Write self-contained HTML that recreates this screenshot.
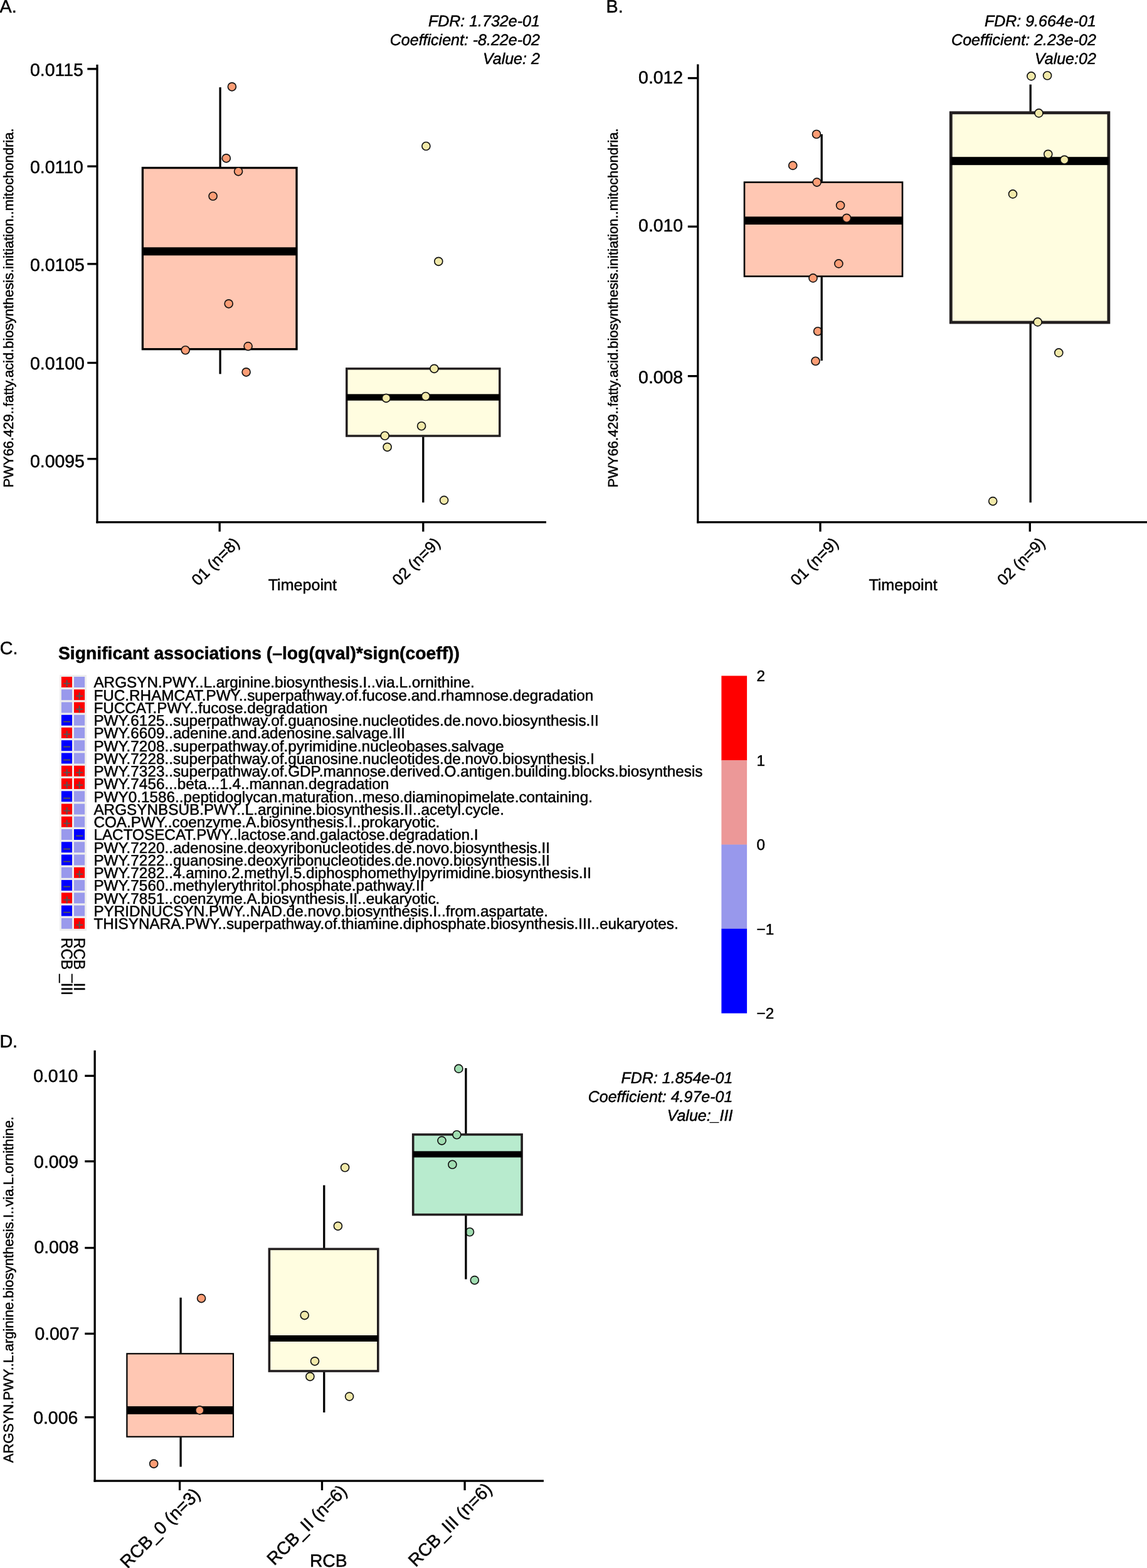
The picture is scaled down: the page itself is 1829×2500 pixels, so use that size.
<!DOCTYPE html>
<html lang="en">
<head>
<meta charset="utf-8">
<title>Figure</title>
<style>
html,body{margin:0;padding:0;background:#fff;}
body{width:1829px;height:2500px;overflow:hidden;}
svg{display:block;}
svg text{font-family:'Liberation Sans', sans-serif;text-rendering:geometricPrecision;stroke:#000;stroke-width:0.5px;}
svg text.nk{font-kerning:none;}
</style>
</head>
<body>
<svg width="1829" height="2500" viewBox="0 0 1829 2500">
<rect x="0" y="0" width="1829" height="2500" fill="#ffffff"/>
<g id="panelA">
<text x="-0.50" y="19.80" font-size="28.7" text-anchor="start" fill="#000" style="" class="nk">A.</text>
<text x="860.80" y="42.00" font-size="25" text-anchor="end" fill="#000" style="font-style:italic" >FDR: 1.732e-01</text>
<text x="860.80" y="71.85" font-size="25" text-anchor="end" fill="#000" style="font-style:italic" >Coefficient: -8.22e-02</text>
<text x="860.80" y="101.70" font-size="25" text-anchor="end" fill="#000" style="font-style:italic" >Value: 2</text>
<text transform="translate(21.20,777.30) rotate(-90)" font-size="21.95" text-anchor="start" fill="#000" style="" >PWY66.429..fatty.acid.biosynthesis.initiation..mitochondria.</text>
<rect x="227.40" y="267.60" width="245.60" height="289.10" fill="#FFC7B3" stroke="#000" stroke-width="3.3"/>
<rect x="227.40" y="394.30" width="245.60" height="13.00" fill="#000" stroke="none" stroke-width="0"/>
<rect x="552.80" y="587.80" width="244.00" height="107.20" fill="#FFFDE0" stroke="#231f20" stroke-width="3.5"/>
<rect x="552.80" y="628.35" width="244.00" height="10.30" fill="#000" stroke="none" stroke-width="0"/>
<circle cx="369.9" cy="138.3" r="6.5" fill="#FC9D75" stroke="#111" stroke-width="1.65"/>
<circle cx="360.8" cy="252.3" r="6.5" fill="#FC9D75" stroke="#111" stroke-width="1.65"/>
<circle cx="380.1" cy="273.3" r="6.5" fill="#FC9D75" stroke="#111" stroke-width="1.65"/>
<circle cx="339.6" cy="312.7" r="6.5" fill="#FC9D75" stroke="#111" stroke-width="1.65"/>
<circle cx="364.7" cy="484.3" r="6.5" fill="#FC9D75" stroke="#111" stroke-width="1.65"/>
<circle cx="295.7" cy="558.2" r="6.5" fill="#FC9D75" stroke="#111" stroke-width="1.65"/>
<circle cx="395.6" cy="552.1" r="6.5" fill="#FC9D75" stroke="#111" stroke-width="1.65"/>
<circle cx="392.6" cy="593.3" r="6.5" fill="#FC9D75" stroke="#111" stroke-width="1.65"/>
<circle cx="679.4" cy="233.0" r="6.5" fill="#F1E9A9" stroke="#111" stroke-width="1.65"/>
<circle cx="699.3" cy="416.8" r="6.5" fill="#F1E9A9" stroke="#111" stroke-width="1.65"/>
<circle cx="692.4" cy="587.8" r="6.5" fill="#F1E9A9" stroke="#111" stroke-width="1.65"/>
<circle cx="615.8" cy="634.8" r="6.5" fill="#F1E9A9" stroke="#111" stroke-width="1.65"/>
<circle cx="678.8" cy="632.0" r="6.5" fill="#F1E9A9" stroke="#111" stroke-width="1.65"/>
<circle cx="672.1" cy="679.2" r="6.5" fill="#F1E9A9" stroke="#111" stroke-width="1.65"/>
<circle cx="613.7" cy="694.7" r="6.5" fill="#F1E9A9" stroke="#111" stroke-width="1.65"/>
<circle cx="617.6" cy="712.8" r="6.5" fill="#F1E9A9" stroke="#111" stroke-width="1.65"/>
<circle cx="708.1" cy="797.6" r="6.5" fill="#F1E9A9" stroke="#111" stroke-width="1.65"/>
<line x1="351.1" y1="139.2" x2="351.1" y2="266.25" stroke="#000" stroke-width="3.3" stroke-linecap="butt"/>
<line x1="351.1" y1="558.05" x2="351.1" y2="596.3" stroke="#000" stroke-width="3.3" stroke-linecap="butt"/>
<line x1="674.8" y1="696.45" x2="674.8" y2="801.2" stroke="#000" stroke-width="3.3" stroke-linecap="butt"/>
<line x1="155" y1="103" x2="155" y2="834.2" stroke="#000" stroke-width="3.3" stroke-linecap="butt"/>
<line x1="153.4" y1="832.6" x2="871" y2="832.6" stroke="#000" stroke-width="3.3" stroke-linecap="butt"/>
<line x1="139.3" y1="109.9" x2="155" y2="109.9" stroke="#000" stroke-width="3.3" stroke-linecap="butt"/>
<text x="48.00" y="121.00" font-size="28.4" text-anchor="start" fill="#000" style="" >0.0115</text>
<line x1="139.3" y1="265.2" x2="155" y2="265.2" stroke="#000" stroke-width="3.3" stroke-linecap="butt"/>
<text x="48.00" y="275.60" font-size="28.4" text-anchor="start" fill="#000" style="" >0.0110</text>
<line x1="139.3" y1="420.85" x2="155" y2="420.85" stroke="#000" stroke-width="3.3" stroke-linecap="butt"/>
<text x="48.00" y="432.30" font-size="28.4" text-anchor="start" fill="#000" style="" >0.0105</text>
<line x1="139.3" y1="578.5" x2="155" y2="578.5" stroke="#000" stroke-width="3.3" stroke-linecap="butt"/>
<text x="48.00" y="588.50" font-size="28.4" text-anchor="start" fill="#000" style="" >0.0100</text>
<line x1="139.3" y1="731.65" x2="155" y2="731.65" stroke="#000" stroke-width="3.3" stroke-linecap="butt"/>
<text x="48.00" y="745.30" font-size="28.4" text-anchor="start" fill="#000" style="" >0.0095</text>
<line x1="350.2" y1="832.6" x2="350.2" y2="847.6" stroke="#000" stroke-width="3.3" stroke-linecap="butt"/>
<text transform="translate(383.30,867.60) rotate(-45)" font-size="25.4" text-anchor="end" fill="#000" style="" >01 (n=8)</text>
<line x1="674.8" y1="832.6" x2="674.8" y2="847.6" stroke="#000" stroke-width="3.3" stroke-linecap="butt"/>
<text transform="translate(703.40,867.60) rotate(-45)" font-size="25.4" text-anchor="end" fill="#000" style="" >02 (n=9)</text>
<text x="482.30" y="940.80" font-size="25.1" text-anchor="middle" fill="#000" style="" >Timepoint</text>
</g>
<g id="panelB">
<text x="966.50" y="19.80" font-size="28.7" text-anchor="start" fill="#000" style="" class="nk">B.</text>
<text x="1747.80" y="42.00" font-size="25" text-anchor="end" fill="#000" style="font-style:italic" >FDR: 9.664e-01</text>
<text x="1747.80" y="71.85" font-size="25" text-anchor="end" fill="#000" style="font-style:italic" >Coefficient: 2.23e-02</text>
<text x="1747.80" y="101.70" font-size="25" text-anchor="end" fill="#000" style="font-style:italic" >Value:02</text>
<text transform="translate(985.10,777.30) rotate(-90)" font-size="21.95" text-anchor="start" fill="#000" style="" >PWY66.429..fatty.acid.biosynthesis.initiation..mitochondria.</text>
<rect x="1187.00" y="290.60" width="252.00" height="150.00" fill="#FFC7B3" stroke="#000" stroke-width="2.6"/>
<rect x="1187.00" y="345.35" width="252.00" height="12.70" fill="#000" stroke="none" stroke-width="0"/>
<rect x="1516.30" y="179.80" width="251.60" height="334.20" fill="#FFFDE0" stroke="#231f20" stroke-width="4.8"/>
<rect x="1516.30" y="250.20" width="251.60" height="13.00" fill="#000" stroke="none" stroke-width="0"/>
<circle cx="1302.0" cy="214.0" r="6.5" fill="#FC9D75" stroke="#111" stroke-width="1.65"/>
<circle cx="1264.2" cy="263.9" r="6.5" fill="#FC9D75" stroke="#111" stroke-width="1.65"/>
<circle cx="1302.6" cy="290.6" r="6.5" fill="#FC9D75" stroke="#111" stroke-width="1.65"/>
<circle cx="1340.1" cy="327.5" r="6.5" fill="#FC9D75" stroke="#111" stroke-width="1.65"/>
<circle cx="1350.1" cy="347.8" r="6.5" fill="#FC9D75" stroke="#111" stroke-width="1.65"/>
<circle cx="1337.4" cy="420.4" r="6.5" fill="#FC9D75" stroke="#111" stroke-width="1.65"/>
<circle cx="1296.5" cy="443.4" r="6.5" fill="#FC9D75" stroke="#111" stroke-width="1.65"/>
<circle cx="1304.1" cy="528.2" r="6.5" fill="#FC9D75" stroke="#111" stroke-width="1.65"/>
<circle cx="1300.5" cy="575.7" r="6.5" fill="#FC9D75" stroke="#111" stroke-width="1.65"/>
<circle cx="1644.4" cy="121.4" r="6.5" fill="#F1E9A9" stroke="#111" stroke-width="1.65"/>
<circle cx="1670.1" cy="120.5" r="6.5" fill="#F1E9A9" stroke="#111" stroke-width="1.65"/>
<circle cx="1656.5" cy="180.4" r="6.5" fill="#F1E9A9" stroke="#111" stroke-width="1.65"/>
<circle cx="1671.3" cy="245.8" r="6.5" fill="#F1E9A9" stroke="#111" stroke-width="1.65"/>
<circle cx="1697.3" cy="254.8" r="6.5" fill="#F1E9A9" stroke="#111" stroke-width="1.65"/>
<circle cx="1615.0" cy="309.4" r="6.5" fill="#F1E9A9" stroke="#111" stroke-width="1.65"/>
<circle cx="1654.7" cy="513.4" r="6.5" fill="#F1E9A9" stroke="#111" stroke-width="1.65"/>
<circle cx="1688.3" cy="562.4" r="6.5" fill="#F1E9A9" stroke="#111" stroke-width="1.65"/>
<circle cx="1583.2" cy="799.1" r="6.5" fill="#F1E9A9" stroke="#111" stroke-width="1.65"/>
<line x1="1310.2" y1="214" x2="1310.2" y2="289.6" stroke="#000" stroke-width="3.3" stroke-linecap="butt"/>
<line x1="1310.2" y1="441.6" x2="1310.2" y2="575" stroke="#000" stroke-width="3.3" stroke-linecap="butt"/>
<line x1="1643.2" y1="134.7" x2="1643.2" y2="177.7" stroke="#000" stroke-width="3.3" stroke-linecap="butt"/>
<line x1="1643.2" y1="516.1" x2="1643.2" y2="801.2" stroke="#000" stroke-width="3.3" stroke-linecap="butt"/>
<line x1="1112.8" y1="102.5" x2="1112.8" y2="834.2" stroke="#000" stroke-width="3.3" stroke-linecap="butt"/>
<line x1="1111.2" y1="832.6" x2="1840" y2="832.6" stroke="#000" stroke-width="3.3" stroke-linecap="butt"/>
<line x1="1096.8" y1="124.55" x2="1112.8" y2="124.55" stroke="#000" stroke-width="3.3" stroke-linecap="butt"/>
<text x="1018.10" y="132.80" font-size="28.4" text-anchor="start" fill="#000" style="" >0.012</text>
<line x1="1096.8" y1="361.25" x2="1112.8" y2="361.25" stroke="#000" stroke-width="3.3" stroke-linecap="butt"/>
<text x="1018.10" y="369.00" font-size="28.4" text-anchor="start" fill="#000" style="" >0.010</text>
<line x1="1096.8" y1="599.65" x2="1112.8" y2="599.65" stroke="#000" stroke-width="3.3" stroke-linecap="butt"/>
<text x="1018.10" y="610.50" font-size="28.4" text-anchor="start" fill="#000" style="" >0.008</text>
<line x1="1308" y1="832.6" x2="1308" y2="847.6" stroke="#000" stroke-width="3.3" stroke-linecap="butt"/>
<text transform="translate(1338.40,867.60) rotate(-45)" font-size="25.4" text-anchor="end" fill="#000" style="" >01 (n=9)</text>
<line x1="1642.3" y1="832.6" x2="1642.3" y2="847.6" stroke="#000" stroke-width="3.3" stroke-linecap="butt"/>
<text transform="translate(1667.90,867.60) rotate(-45)" font-size="25.4" text-anchor="end" fill="#000" style="" >02 (n=9)</text>
<text x="1440.00" y="940.80" font-size="25.1" text-anchor="middle" fill="#000" style="" >Timepoint</text>
</g>
<g id="panelC">
<text x="-0.30" y="1042.50" font-size="28.7" text-anchor="start" fill="#000" style="" class="nk">C.</text>
<text x="93.00" y="1051.10" font-size="28.3" text-anchor="start" fill="#000" style="font-weight:bold" >Significant associations (–log(qval)*sign(coeff))</text>
<rect x="95.00" y="1076.00" width="43.10" height="408.00" fill="#eeeeee" stroke="none" stroke-width="0"/>
<rect x="97.90" y="1079.00" width="17.10" height="17.00" fill="#ff0000" stroke="none" stroke-width="0"/>
<text x="106.65" y="1097.20" font-size="22" text-anchor="middle" fill="#555" style="stroke:#555;stroke-width:0.3px" >+</text>
<rect x="118.00" y="1079.00" width="17.10" height="17.00" fill="#9999ec" stroke="none" stroke-width="0"/>
<text x="149.40" y="1096.30" font-size="24.3" text-anchor="start" fill="#000" style="" >ARGSYN.PWY..L.arginine.biosynthesis.I..via.L.ornithine.</text>
<rect x="97.90" y="1099.26" width="17.10" height="17.00" fill="#9999ec" stroke="none" stroke-width="0"/>
<rect x="118.00" y="1099.26" width="17.10" height="17.00" fill="#ff0000" stroke="none" stroke-width="0"/>
<text x="126.75" y="1117.46" font-size="22" text-anchor="middle" fill="#555" style="stroke:#555;stroke-width:0.3px" >+</text>
<text x="149.40" y="1116.56" font-size="24.3" text-anchor="start" fill="#000" style="" >FUC.RHAMCAT.PWY..superpathway.of.fucose.and.rhamnose.degradation</text>
<rect x="97.90" y="1119.51" width="17.10" height="17.00" fill="#9999ec" stroke="none" stroke-width="0"/>
<rect x="118.00" y="1119.51" width="17.10" height="17.00" fill="#ff0000" stroke="none" stroke-width="0"/>
<text x="126.75" y="1137.71" font-size="22" text-anchor="middle" fill="#555" style="stroke:#555;stroke-width:0.3px" >+</text>
<text x="149.40" y="1136.81" font-size="24.3" text-anchor="start" fill="#000" style="" >FUCCAT.PWY..fucose.degradation</text>
<rect x="97.90" y="1139.77" width="17.10" height="17.00" fill="#0000ff" stroke="none" stroke-width="0"/>
<text x="106.65" y="1157.97" font-size="22" text-anchor="middle" fill="#555" style="stroke:#555;stroke-width:0.3px" >−</text>
<rect x="118.00" y="1139.77" width="17.10" height="17.00" fill="#9999ec" stroke="none" stroke-width="0"/>
<text x="149.40" y="1157.07" font-size="24.3" text-anchor="start" fill="#000" style="" >PWY.6125..superpathway.of.guanosine.nucleotides.de.novo.biosynthesis.II</text>
<rect x="97.90" y="1160.02" width="17.10" height="17.00" fill="#ff0000" stroke="none" stroke-width="0"/>
<text x="106.65" y="1178.22" font-size="22" text-anchor="middle" fill="#555" style="stroke:#555;stroke-width:0.3px" >+</text>
<rect x="118.00" y="1160.02" width="17.10" height="17.00" fill="#9999ec" stroke="none" stroke-width="0"/>
<text x="149.40" y="1177.32" font-size="24.3" text-anchor="start" fill="#000" style="" >PWY.6609..adenine.and.adenosine.salvage.III</text>
<rect x="97.90" y="1180.28" width="17.10" height="17.00" fill="#0000ff" stroke="none" stroke-width="0"/>
<text x="106.65" y="1198.48" font-size="22" text-anchor="middle" fill="#555" style="stroke:#555;stroke-width:0.3px" >−</text>
<rect x="118.00" y="1180.28" width="17.10" height="17.00" fill="#9999ec" stroke="none" stroke-width="0"/>
<text x="149.40" y="1197.58" font-size="24.3" text-anchor="start" fill="#000" style="" >PWY.7208..superpathway.of.pyrimidine.nucleobases.salvage</text>
<rect x="97.90" y="1200.53" width="17.10" height="17.00" fill="#0000ff" stroke="none" stroke-width="0"/>
<text x="106.65" y="1218.73" font-size="22" text-anchor="middle" fill="#555" style="stroke:#555;stroke-width:0.3px" >−</text>
<rect x="118.00" y="1200.53" width="17.10" height="17.00" fill="#9999ec" stroke="none" stroke-width="0"/>
<text x="149.40" y="1217.83" font-size="24.3" text-anchor="start" fill="#000" style="" >PWY.7228..superpathway.of.guanosine.nucleotides.de.novo.biosynthesis.I</text>
<rect x="97.90" y="1220.79" width="17.10" height="17.00" fill="#ff0000" stroke="none" stroke-width="0"/>
<text x="106.65" y="1238.99" font-size="22" text-anchor="middle" fill="#555" style="stroke:#555;stroke-width:0.3px" >+</text>
<rect x="118.00" y="1220.79" width="17.10" height="17.00" fill="#ff0000" stroke="none" stroke-width="0"/>
<text x="126.75" y="1238.99" font-size="22" text-anchor="middle" fill="#555" style="stroke:#555;stroke-width:0.3px" >+</text>
<text x="149.40" y="1238.09" font-size="24.3" text-anchor="start" fill="#000" style="" >PWY.7323..superpathway.of.GDP.mannose.derived.O.antigen.building.blocks.biosynthesis</text>
<rect x="97.90" y="1241.04" width="17.10" height="17.00" fill="#ff0000" stroke="none" stroke-width="0"/>
<text x="106.65" y="1259.24" font-size="22" text-anchor="middle" fill="#555" style="stroke:#555;stroke-width:0.3px" >+</text>
<rect x="118.00" y="1241.04" width="17.10" height="17.00" fill="#ff0000" stroke="none" stroke-width="0"/>
<text x="126.75" y="1259.24" font-size="22" text-anchor="middle" fill="#555" style="stroke:#555;stroke-width:0.3px" >+</text>
<text x="149.40" y="1258.34" font-size="24.3" text-anchor="start" fill="#000" style="" >PWY.7456...beta...1.4..mannan.degradation</text>
<rect x="97.90" y="1261.30" width="17.10" height="17.00" fill="#0000ff" stroke="none" stroke-width="0"/>
<text x="106.65" y="1279.50" font-size="22" text-anchor="middle" fill="#555" style="stroke:#555;stroke-width:0.3px" >−</text>
<rect x="118.00" y="1261.30" width="17.10" height="17.00" fill="#9999ec" stroke="none" stroke-width="0"/>
<text x="149.40" y="1278.60" font-size="24.3" text-anchor="start" fill="#000" style="" >PWY0.1586..peptidoglycan.maturation..meso.diaminopimelate.containing.</text>
<rect x="97.90" y="1281.55" width="17.10" height="17.00" fill="#ff0000" stroke="none" stroke-width="0"/>
<text x="106.65" y="1299.75" font-size="22" text-anchor="middle" fill="#555" style="stroke:#555;stroke-width:0.3px" >+</text>
<rect x="118.00" y="1281.55" width="17.10" height="17.00" fill="#9999ec" stroke="none" stroke-width="0"/>
<text x="149.40" y="1298.85" font-size="24.3" text-anchor="start" fill="#000" style="" >ARGSYNBSUB.PWY..L.arginine.biosynthesis.II..acetyl.cycle.</text>
<rect x="97.90" y="1301.81" width="17.10" height="17.00" fill="#ff0000" stroke="none" stroke-width="0"/>
<text x="106.65" y="1320.01" font-size="22" text-anchor="middle" fill="#555" style="stroke:#555;stroke-width:0.3px" >+</text>
<rect x="118.00" y="1301.81" width="17.10" height="17.00" fill="#9999ec" stroke="none" stroke-width="0"/>
<text x="149.40" y="1319.11" font-size="24.3" text-anchor="start" fill="#000" style="" >COA.PWY..coenzyme.A.biosynthesis.I..prokaryotic.</text>
<rect x="97.90" y="1322.06" width="17.10" height="17.00" fill="#9999ec" stroke="none" stroke-width="0"/>
<rect x="118.00" y="1322.06" width="17.10" height="17.00" fill="#0000ff" stroke="none" stroke-width="0"/>
<text x="126.75" y="1340.26" font-size="22" text-anchor="middle" fill="#555" style="stroke:#555;stroke-width:0.3px" >−</text>
<text x="149.40" y="1339.36" font-size="24.3" text-anchor="start" fill="#000" style="" >LACTOSECAT.PWY..lactose.and.galactose.degradation.I</text>
<rect x="97.90" y="1342.32" width="17.10" height="17.00" fill="#0000ff" stroke="none" stroke-width="0"/>
<text x="106.65" y="1360.52" font-size="22" text-anchor="middle" fill="#555" style="stroke:#555;stroke-width:0.3px" >−</text>
<rect x="118.00" y="1342.32" width="17.10" height="17.00" fill="#9999ec" stroke="none" stroke-width="0"/>
<text x="149.40" y="1359.62" font-size="24.3" text-anchor="start" fill="#000" style="" >PWY.7220..adenosine.deoxyribonucleotides.de.novo.biosynthesis.II</text>
<rect x="97.90" y="1362.57" width="17.10" height="17.00" fill="#0000ff" stroke="none" stroke-width="0"/>
<text x="106.65" y="1380.77" font-size="22" text-anchor="middle" fill="#555" style="stroke:#555;stroke-width:0.3px" >−</text>
<rect x="118.00" y="1362.57" width="17.10" height="17.00" fill="#9999ec" stroke="none" stroke-width="0"/>
<text x="149.40" y="1379.87" font-size="24.3" text-anchor="start" fill="#000" style="" >PWY.7222..guanosine.deoxyribonucleotides.de.novo.biosynthesis.II</text>
<rect x="97.90" y="1382.83" width="17.10" height="17.00" fill="#9999ec" stroke="none" stroke-width="0"/>
<rect x="118.00" y="1382.83" width="17.10" height="17.00" fill="#ff0000" stroke="none" stroke-width="0"/>
<text x="126.75" y="1401.03" font-size="22" text-anchor="middle" fill="#555" style="stroke:#555;stroke-width:0.3px" >+</text>
<text x="149.40" y="1400.12" font-size="24.3" text-anchor="start" fill="#000" style="" >PWY.7282..4.amino.2.methyl.5.diphosphomethylpyrimidine.biosynthesis.II</text>
<rect x="97.90" y="1403.08" width="17.10" height="17.00" fill="#0000ff" stroke="none" stroke-width="0"/>
<text x="106.65" y="1421.28" font-size="22" text-anchor="middle" fill="#555" style="stroke:#555;stroke-width:0.3px" >−</text>
<rect x="118.00" y="1403.08" width="17.10" height="17.00" fill="#9999ec" stroke="none" stroke-width="0"/>
<text x="149.40" y="1420.38" font-size="24.3" text-anchor="start" fill="#000" style="" >PWY.7560..methylerythritol.phosphate.pathway.II</text>
<rect x="97.90" y="1423.34" width="17.10" height="17.00" fill="#ff0000" stroke="none" stroke-width="0"/>
<text x="106.65" y="1441.54" font-size="22" text-anchor="middle" fill="#555" style="stroke:#555;stroke-width:0.3px" >+</text>
<rect x="118.00" y="1423.34" width="17.10" height="17.00" fill="#9999ec" stroke="none" stroke-width="0"/>
<text x="149.40" y="1440.63" font-size="24.3" text-anchor="start" fill="#000" style="" >PWY.7851..coenzyme.A.biosynthesis.II..eukaryotic.</text>
<rect x="97.90" y="1443.59" width="17.10" height="17.00" fill="#0000ff" stroke="none" stroke-width="0"/>
<text x="106.65" y="1461.79" font-size="22" text-anchor="middle" fill="#555" style="stroke:#555;stroke-width:0.3px" >−</text>
<rect x="118.00" y="1443.59" width="17.10" height="17.00" fill="#9999ec" stroke="none" stroke-width="0"/>
<text x="149.40" y="1460.89" font-size="24.3" text-anchor="start" fill="#000" style="" >PYRIDNUCSYN.PWY..NAD.de.novo.biosynthesis.I..from.aspartate.</text>
<rect x="97.90" y="1463.85" width="17.10" height="17.00" fill="#9999ec" stroke="none" stroke-width="0"/>
<rect x="118.00" y="1463.85" width="17.10" height="17.00" fill="#ff0000" stroke="none" stroke-width="0"/>
<text x="126.75" y="1482.05" font-size="22" text-anchor="middle" fill="#555" style="stroke:#555;stroke-width:0.3px" >+</text>
<text x="149.40" y="1481.14" font-size="24.3" text-anchor="start" fill="#000" style="" >THISYNARA.PWY..superpathway.of.thiamine.diphosphate.biosynthesis.III..eukaryotes.</text>
<text transform="translate(118,1494.9) rotate(90) scale(1,1.04)" font-size="24.3" style="stroke-width:0.35px">RCB<tspan dx="7.1" dy="-1.2">_</tspan><tspan dy="1.2">II</tspan></text>
<text transform="translate(97.9,1494.9) rotate(90) scale(1,1.04)" font-size="24.3" style="stroke-width:0.35px">RCB<tspan dx="7.1" dy="-1.2">_</tspan><tspan dy="1.2">III</tspan></text>
<rect x="1150.40" y="1077.50" width="40.70" height="135.00" fill="#ff0000" stroke="none" stroke-width="0"/>
<rect x="1150.40" y="1212.20" width="40.70" height="134.70" fill="#ec9898" stroke="none" stroke-width="0"/>
<rect x="1150.40" y="1346.60" width="40.70" height="134.50" fill="#9898ec" stroke="none" stroke-width="0"/>
<rect x="1150.40" y="1480.80" width="40.70" height="134.80" fill="#0000ff" stroke="none" stroke-width="0"/>
<text x="1206.50" y="1086.20" font-size="24.3" text-anchor="start" fill="#000" style="" >2</text>
<text x="1206.50" y="1220.90" font-size="24.3" text-anchor="start" fill="#000" style="" >1</text>
<text x="1206.50" y="1355.30" font-size="24.3" text-anchor="start" fill="#000" style="" >0</text>
<text x="1206.50" y="1489.50" font-size="24.3" text-anchor="start" fill="#000" style="" >−1</text>
<text x="1206.50" y="1624.00" font-size="24.3" text-anchor="start" fill="#000" style="" >−2</text>
</g>
<g id="panelD">
<text x="-0.60" y="1669.80" font-size="28.7" text-anchor="start" fill="#000" style="" class="nk">D.</text>
<text x="1168.40" y="1726.80" font-size="25" text-anchor="end" fill="#000" style="font-style:italic" >FDR: 1.854e-01</text>
<text x="1168.40" y="1756.65" font-size="25" text-anchor="end" fill="#000" style="font-style:italic" >Coefficient: 4.97e-01</text>
<text x="1168.40" y="1786.50" font-size="25" text-anchor="end" fill="#000" style="font-style:italic" >Value:_III</text>
<text transform="translate(21.00,2332.20) rotate(-90)" font-size="22.1" text-anchor="start" fill="#000" style="" >ARGSYN.PWY..L.arginine.biosynthesis.I..via.L.ornithine.</text>
<rect x="202.40" y="2158.30" width="169.60" height="132.40" fill="#FFC7B3" stroke="#000" stroke-width="2.2"/>
<rect x="202.40" y="2242.15" width="169.60" height="12.70" fill="#000" stroke="none" stroke-width="0"/>
<rect x="429.40" y="1991.40" width="173.40" height="194.60" fill="#FFFDE0" stroke="#231f20" stroke-width="3.6"/>
<rect x="429.40" y="2129.00" width="173.40" height="10.00" fill="#000" stroke="none" stroke-width="0"/>
<rect x="658.70" y="1808.90" width="173.40" height="127.70" fill="#B8EBCE" stroke="#231f20" stroke-width="3.6"/>
<rect x="658.70" y="1835.40" width="173.40" height="10.00" fill="#000" stroke="none" stroke-width="0"/>
<circle cx="321.1" cy="2070.1" r="6.5" fill="#FC9D75" stroke="#111" stroke-width="1.65"/>
<circle cx="318.4" cy="2248.4" r="6.5" fill="#FC9D75" stroke="#111" stroke-width="1.65"/>
<circle cx="245.2" cy="2333.8" r="6.5" fill="#FC9D75" stroke="#111" stroke-width="1.65"/>
<circle cx="550.1" cy="1861.5" r="6.5" fill="#F1E9A9" stroke="#111" stroke-width="1.65"/>
<circle cx="538.9" cy="1954.8" r="6.5" fill="#F1E9A9" stroke="#111" stroke-width="1.65"/>
<circle cx="485.7" cy="2097.1" r="6.5" fill="#F1E9A9" stroke="#111" stroke-width="1.65"/>
<circle cx="502.0" cy="2170.3" r="6.5" fill="#F1E9A9" stroke="#111" stroke-width="1.65"/>
<circle cx="494.4" cy="2194.8" r="6.5" fill="#F1E9A9" stroke="#111" stroke-width="1.65"/>
<circle cx="557.1" cy="2226.6" r="6.5" fill="#F1E9A9" stroke="#111" stroke-width="1.65"/>
<circle cx="731.4" cy="1703.9" r="6.5" fill="#A0DDB1" stroke="#111" stroke-width="1.65"/>
<circle cx="728.4" cy="1809.2" r="6.5" fill="#A0DDB1" stroke="#111" stroke-width="1.65"/>
<circle cx="704.5" cy="1818.6" r="6.5" fill="#A0DDB1" stroke="#111" stroke-width="1.65"/>
<circle cx="721.4" cy="1856.7" r="6.5" fill="#A0DDB1" stroke="#111" stroke-width="1.65"/>
<circle cx="749.0" cy="1964.2" r="6.5" fill="#A0DDB1" stroke="#111" stroke-width="1.65"/>
<circle cx="756.8" cy="2041.1" r="6.5" fill="#A0DDB1" stroke="#111" stroke-width="1.65"/>
<line x1="288.1" y1="2068.9" x2="288.1" y2="2157.5" stroke="#000" stroke-width="3.3" stroke-linecap="butt"/>
<line x1="288.1" y1="2291.5" x2="288.1" y2="2338.6" stroke="#000" stroke-width="3.3" stroke-linecap="butt"/>
<line x1="516.8" y1="1889.7" x2="516.8" y2="1989.9" stroke="#000" stroke-width="3.3" stroke-linecap="butt"/>
<line x1="516.8" y1="2187.5" x2="516.8" y2="2252" stroke="#000" stroke-width="3.3" stroke-linecap="butt"/>
<line x1="742.9" y1="1703" x2="742.9" y2="1807.4" stroke="#000" stroke-width="3.3" stroke-linecap="butt"/>
<line x1="742.9" y1="1938.1" x2="742.9" y2="2039.6" stroke="#000" stroke-width="3.3" stroke-linecap="butt"/>
<line x1="151.15" y1="1674.8" x2="151.15" y2="2362.7" stroke="#000" stroke-width="3.3" stroke-linecap="butt"/>
<line x1="149.55" y1="2361.1" x2="867" y2="2361.1" stroke="#000" stroke-width="3.3" stroke-linecap="butt"/>
<line x1="135.25" y1="1715.3" x2="151.15" y2="1715.3" stroke="#000" stroke-width="3.3" stroke-linecap="butt"/>
<text x="53.20" y="1724.90" font-size="28.4" text-anchor="start" fill="#000" style="" >0.010</text>
<line x1="135.25" y1="1851.65" x2="151.15" y2="1851.65" stroke="#000" stroke-width="3.3" stroke-linecap="butt"/>
<text x="54.10" y="1861.50" font-size="28.4" text-anchor="start" fill="#000" style="" >0.009</text>
<line x1="135.25" y1="1989.6" x2="151.15" y2="1989.6" stroke="#000" stroke-width="3.3" stroke-linecap="butt"/>
<text x="54.40" y="1998.30" font-size="28.4" text-anchor="start" fill="#000" style="" >0.008</text>
<line x1="135.25" y1="2126.4" x2="151.15" y2="2126.4" stroke="#000" stroke-width="3.3" stroke-linecap="butt"/>
<text x="55.40" y="2135.90" font-size="28.4" text-anchor="start" fill="#000" style="" >0.007</text>
<line x1="135.25" y1="2259.7" x2="151.15" y2="2259.7" stroke="#000" stroke-width="3.3" stroke-linecap="butt"/>
<text x="53.20" y="2269.70" font-size="28.4" text-anchor="start" fill="#000" style="" >0.006</text>
<line x1="286.6" y1="2361.1" x2="286.6" y2="2376.1" stroke="#000" stroke-width="3.3" stroke-linecap="butt"/>
<text transform="translate(321.00,2384.30) rotate(-45)" font-size="28.4" text-anchor="end" fill="#000" style="" >RCB_0 (n=3)</text>
<line x1="513.5" y1="2361.1" x2="513.5" y2="2376.1" stroke="#000" stroke-width="3.3" stroke-linecap="butt"/>
<text transform="translate(554.90,2379.20) rotate(-45)" font-size="28.4" text-anchor="end" fill="#000" style="" >RCB_II (n=6)</text>
<line x1="741.1" y1="2361.1" x2="741.1" y2="2376.1" stroke="#000" stroke-width="3.3" stroke-linecap="butt"/>
<text transform="translate(786.10,2376.10) rotate(-45)" font-size="28.4" text-anchor="end" fill="#000" style="" >RCB_III (n=6)</text>
<text x="523.80" y="2498.20" font-size="28.3" text-anchor="middle" fill="#000" style="" >RCB</text>
</g>
</svg>
</body>
</html>
